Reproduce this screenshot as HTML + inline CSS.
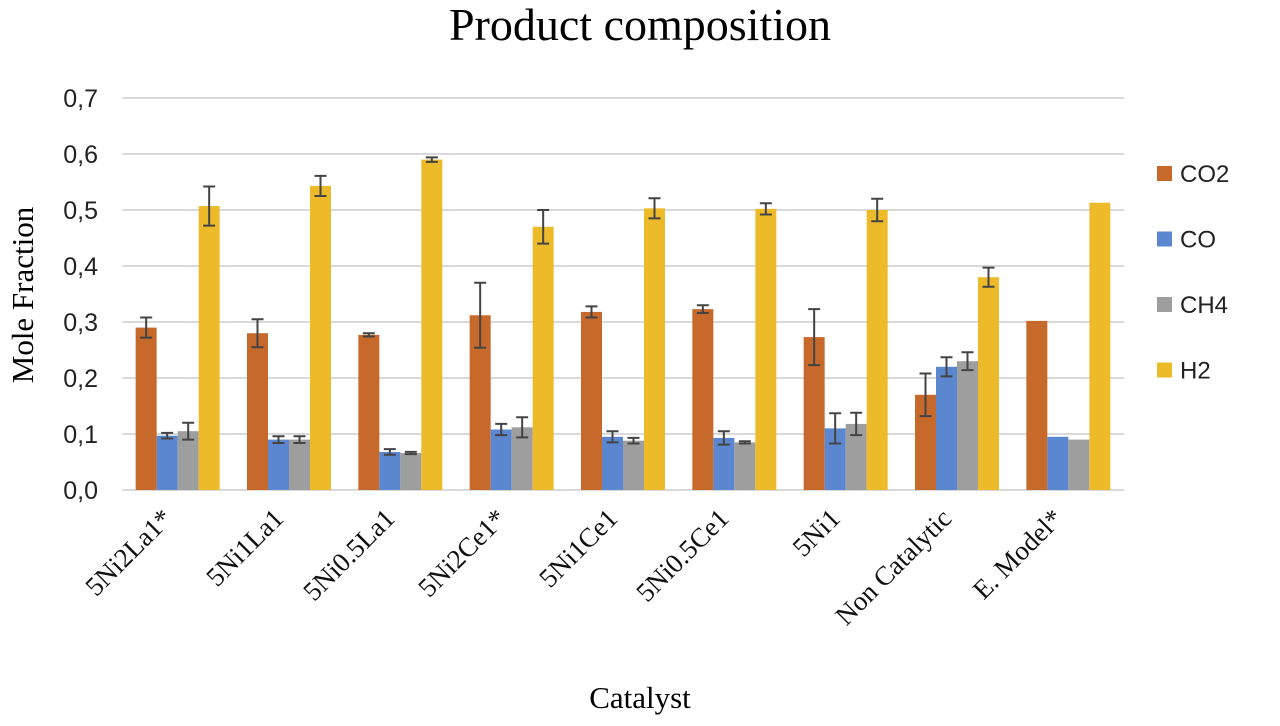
<!DOCTYPE html>
<html><head><meta charset="utf-8"><style>
body{margin:0;background:#fff}
svg{display:block}
</style></head><body>
<svg id="chart" width="1280" height="726" viewBox="0 0 1280 726" xmlns="http://www.w3.org/2000/svg">
<text x="640" y="40" text-anchor="middle" font-family="Liberation Serif, serif" font-size="46">Product composition</text>
<text transform="translate(33,295) rotate(-90)" text-anchor="middle" font-family="Liberation Serif, serif" font-size="31">Mole Fraction</text>
<text x="640" y="708" text-anchor="middle" font-family="Liberation Serif, serif" font-size="31">Catalyst</text>
<g id="grid"></g><g id="bars"></g><g id="errs"></g><g id="xlabels"></g><g id="legend"></g>
</svg>
<script>
const categories=["5Ni2La1*","5Ni1La1","5Ni0.5La1","5Ni2Ce1*","5Ni1Ce1","5Ni0.5Ce1","5Ni1","Non Catalytic","E. Model*"];
const seriesNames=["CO2","CO","CH4","H2"];
const co2=[0.29,0.28,0.277,0.312,0.318,0.323,0.273,0.17,0.302];
const co=[0.097,0.09,0.068,0.108,0.095,0.093,0.11,0.22,0.095];
const ch4=[0.105,0.09,0.066,0.112,0.088,0.085,0.118,0.23,0.09];
const h2=[0.507,0.543,0.59,0.47,0.503,0.502,0.5,0.38,0.513];
const co2Err=[0.018,0.025,0.003,0.058,0.01,0.007,0.05,0.038,0];
const coErr=[0.005,0.006,0.005,0.01,0.01,0.012,0.027,0.017,0];
const ch4Err=[0.015,0.006,0.002,0.018,0.005,0.002,0.02,0.016,0];
const h2Err=[0.035,0.018,0.004,0.03,0.018,0.01,0.02,0.017,0];
const yTicks=["0,0","0,1","0,2","0,3","0,4","0,5","0,6","0,7"];
const colors=["#C8692C","#5B87D0","#9E9E9E","#EDBB2A"];
const NS="http://www.w3.org/2000/svg";
const x0=122,x1=1124,yBase=490,yTop=98,yMax=0.7;
const y=v=>yBase-(v/yMax)*(yBase-yTop);
const gw=(x1-x0)/categories.length,bw=21;
const xb=(i,s)=>x0+gw*i+gw/2-2*bw+s*bw;
function mk(tag,attrs,parent){const e=document.createElementNS(NS,tag);for(const k in attrs)e.setAttribute(k,attrs[k]);document.getElementById(parent).appendChild(e);return e;}
yTicks.forEach((t,i)=>{const v=i*0.1;
 const l=mk('line',{x1:x0,x2:x1,y1:y(v),y2:y(v),stroke:'#d9d9d9','stroke-width':2},'grid');
 
 
 const tx=mk('text',{x:98,y:y(v)+9,'text-anchor':'end','font-family':'Liberation Sans, sans-serif','font-size':25,fill:'#222'},'grid');
 tx.textContent=t;
 
 
});
const vals=[co2,co,ch4,h2],errs=[co2Err,coErr,ch4Err,h2Err];
categories.forEach((c,i)=>{
 vals.forEach((arr,s)=>{const v=arr[i];
  const r=mk('rect',{x:xb(i,s),y:y(v),width:bw,height:yBase-y(v),fill:colors[s]},'bars');
  
  
  const e=errs[s][i];
  if(e>0){const cx=xb(i,s)+bw/2;
   const g=mk('path',{d:`M${cx},${y(v+e)}V${y(v-e)}M${cx-6},${y(v+e)}H${cx+6}M${cx-6},${y(v-e)}H${cx+6}`,stroke:'#444','stroke-width':2,fill:'none'},'errs');
   
   }
 });
 const cx=x0+gw*i+gw/2-4;
 const t=mk('text',{transform:`translate(${cx},520) rotate(-45)`,'text-anchor':'end','font-family':'Liberation Serif, serif','font-size':27,fill:'#111'},'xlabels');
 t.textContent=c;
 
 
});
seriesNames.forEach((n,s)=>{const ly=174+s*65.5;
 const r=mk('rect',{x:1157,y:ly-8,width:15,height:15,fill:colors[s]},'legend');
 
 
 const t=mk('text',{x:1180,y:ly+8,'font-family':'Liberation Sans, sans-serif','font-size':24,fill:'#222'},'legend');
 t.textContent=n;
 
 
});
</script>
</body></html>
